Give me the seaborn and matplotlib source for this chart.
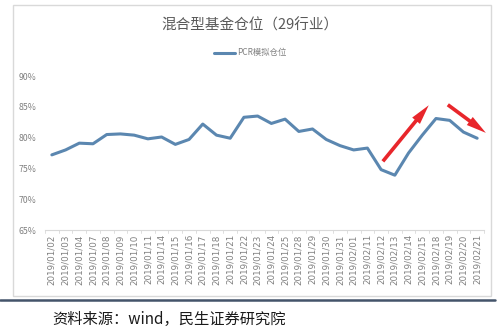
import matplotlib
matplotlib.use("Agg")
import matplotlib.pyplot as plt
import seaborn as sns
import pandas as pd
from matplotlib.lines import Line2D
from matplotlib.patches import Rectangle
from matplotlib.ticker import FuncFormatter

dates = ["2019/01/02", "2019/01/03", "2019/01/04", "2019/01/07", "2019/01/08",
         "2019/01/09", "2019/01/10", "2019/01/11", "2019/01/14", "2019/01/15",
         "2019/01/16", "2019/01/17", "2019/01/18", "2019/01/21", "2019/01/22",
         "2019/01/23", "2019/01/24", "2019/01/25", "2019/01/28", "2019/01/29",
         "2019/01/30", "2019/01/31", "2019/02/01", "2019/02/11", "2019/02/12",
         "2019/02/13", "2019/02/14", "2019/02/15", "2019/02/18", "2019/02/19",
         "2019/02/20", "2019/02/21"]
pcr = [77.2, 78.0, 79.1, 79.0, 80.5, 80.6, 80.4, 79.8, 80.1, 78.9,
       79.7, 82.2, 80.4, 79.9, 83.3, 83.5, 82.3, 83.0, 81.0, 81.4,
       79.7, 78.7, 78.0, 78.3, 74.8, 73.9, 77.5, 80.4, 83.1, 82.8,
       80.9, 79.9]
series_name = "PCR模拟仓位"
title = "混合型基金仓位（29行业）"
source = "资料来源：wind，民生证券研究院"
yticks = [65, 70, 75, 80, 85, 90]

sns.set_theme(style="white")
plt.rcParams['font.family'] = ['Noto Sans CJK SC', 'DejaVu Sans']

df = pd.DataFrame({"idx": range(len(dates)), "val": pcr})

fig = plt.figure(figsize=(5, 3.35), dpi=100)
ax = fig.add_axes([0.09, 0.3134, 0.878, 0.4597])

sns.lineplot(data=df, x="idx", y="val", ax=ax, color="#5b87b0", linewidth=2.2,
             solid_joinstyle="round", solid_capstyle="round", label=series_name)

ax.set_xlim(-0.5, len(dates) - 0.5)
ax.set_ylim(65, 90)
ax.set_yticks(yticks)
ax.yaxis.set_major_formatter(FuncFormatter(lambda v, p: f"{int(v)}%"))
ax.set_xticks(range(len(dates)))
ax.set_xticklabels(dates, rotation=90, fontsize=6.3, color="#808080",
                   family="DejaVu Sans")
ax.tick_params(axis="y", length=0, pad=6, labelsize=6.3, labelcolor="#808080")
ax.tick_params(axis="x", length=0, pad=3)
ax.set_xlabel("")
ax.set_ylabel("")
for s in ["top", "right", "left"]:
    ax.spines[s].set_visible(False)
ax.spines["bottom"].set_color("#d9d9d9")
ax.spines["bottom"].set_linewidth(0.8)
ax.grid(False)

# boundary tick marks on category axis
for b in range(len(dates) + 1):
    ax.plot([b - 0.5, b - 0.5], [65, 64.5], color="#d9d9d9", lw=0.6, clip_on=False)

leg = ax.legend(loc="center", bbox_to_anchor=(0.5, 0.842), bbox_transform=fig.transFigure,
                frameon=False, fontsize=6, handlelength=2.6, handletextpad=0.2)
for t in leg.get_texts():
    t.set_color("#808080")

fig.text(0.5, 0.925, title, ha="center", va="center", fontsize=10.5, color="#595959")

# red arrows
style = "simple,head_width=0.6,head_length=1.2,tail_width=0.22"
ax.annotate("", xy=(27.6, 85.6), xytext=(24.0, 75.8),
            arrowprops=dict(arrowstyle=style, color="#e8262b", lw=0), annotation_clip=False)
ax.annotate("", xy=(31.8, 80.5), xytext=(28.7, 85.6),
            arrowprops=dict(arrowstyle=style, color="#e8262b", lw=0), annotation_clip=False)

# outer frame
fig.add_artist(Rectangle((0.026, 0.116), 0.956, 0.869, transform=fig.transFigure,
                         fill=False, edgecolor="#d9d9d9", lw=1.0))
# dark separator line
fig.add_artist(Line2D([0.0, 0.99], [0.104, 0.104], transform=fig.transFigure,
                      color="#44546a", lw=1.8))
fig.text(0.105, 0.045, source, ha="left", va="center", fontsize=11, color="#1a1a1a")

fig.savefig("out.png", dpi=100)
